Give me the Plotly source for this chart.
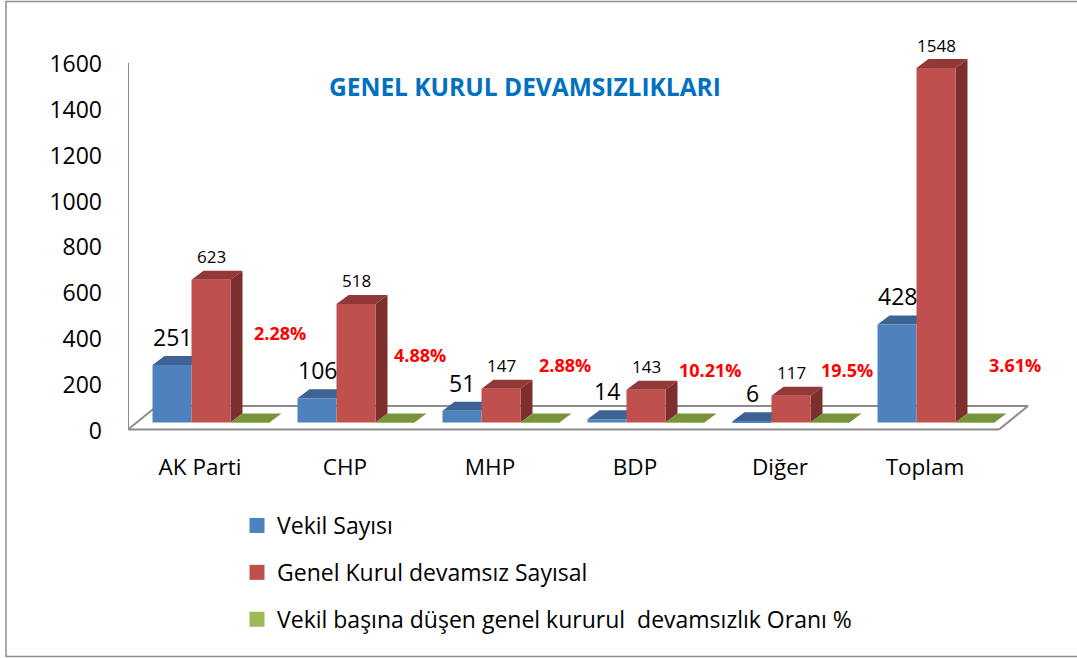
import plotly.graph_objects as go

# ---------------- data ----------------
categories = ["AK Parti", "CHP", "MHP", "BDP", "Diğer", "Toplam"]
vekil_sayisi = [251, 106, 51, 14, 6, 428]
devamsiz_sayisal = [623, 518, 147, 143, 117, 1548]
oran_yuzde = [2.28, 4.88, 2.88, 10.21, 19.5, 3.61]
series_names = ["Vekil Sayısı", "Genel Kurul devamsız Sayısal",
                "Vekil başına düşen genel kururul  devamsızlık Oranı %"]
y_ticks = [0, 200, 400, 600, 800, 1000, 1200, 1400, 1600]
title_text = "GENEL KURUL DEVAMSIZLIKLARI"

# ---------------- layout geometry (screen pixels) ----------------
W, H = 1077, 658
plot_left, plot_right, plot_top, plot_bottom = 128, 1035, 40, 445
L, R, T, B = plot_left, W - plot_right, plot_top, H - plot_bottom
plot_w = plot_right - plot_left
plot_h = plot_bottom - plot_top
first_center_px = 211
px_per_cat = 145.0
px_per_unit = 0.229
zero_px = 422.5        # pixel row of the bar baseline
x_range = [-(first_center_px - plot_left) / px_per_cat,
           -(first_center_px - plot_left) / px_per_cat + plot_w / px_per_cat]
y_range = [-(plot_bottom - zero_px) / px_per_unit, (zero_px - plot_top) / px_per_unit]
tick_zero_px = 430.5
y2_range = [-(plot_bottom - tick_zero_px) / px_per_unit, (tick_zero_px - plot_top) / px_per_unit]

bar_w = 39 / px_per_cat
dx = 12 / px_per_cat
dy = 9 / px_per_unit
label_shift = -11 / px_per_cat

def xd(px):
    return x_range[0] + (px - plot_left) / px_per_cat

def yd(px):
    return (zero_px - px) / px_per_unit

def xp(px):
    return (px - plot_left) / plot_w

def yp(px):
    return (plot_bottom - px) / plot_h

BLUE, BLUE_TOP = "#4F81BD", "#3C6393"
RED, RED_TOP, RED_SIDE = "#C0504D", "#923937", "#7C2F2D"
GREEN, GREEN_TOP = "#9BBB59", "#77933C"
AXIS_C = "#8C8C8C"
FONT = "Open Sans, Liberation Sans, sans-serif"

xs = list(range(len(categories)))
oran_frac = [v / 100 for v in oran_yuzde]

fig = go.Figure()
fig.add_trace(go.Bar(x=xs, y=vekil_sayisi, name=series_names[0], marker_color=BLUE,
                     marker_line_width=0, showlegend=False, hoverinfo="y"))
fig.add_trace(go.Bar(x=xs, y=devamsiz_sayisal, name=series_names[1], marker_color=RED,
                     marker_line_width=0, showlegend=False, hoverinfo="y"))
fig.add_trace(go.Bar(x=xs, y=oran_frac, name=series_names[2], marker_color=GREEN,
                     marker_line_width=0, showlegend=False, hoverinfo="skip"))
# legend entries (square swatches)
for name, col, grp in zip(series_names, [BLUE, RED, GREEN], ["a", "b", "c"]):
    fig.add_trace(go.Scatter(x=[None], y=[None], mode="markers", name=name, legendgroup=grp,
                             marker=dict(symbol="square", size=15, color=col)))
fig.add_trace(go.Scatter(x=[xs[0]], y=[0], yaxis="y2", mode="markers",
                         marker=dict(opacity=0), showlegend=False, hoverinfo="skip"))

shapes = []

def poly(pts, color):
    path = "M " + " L ".join(f"{x},{y}" for x, y in pts) + " Z"
    return dict(type="path", path=path, xref="x", yref="y", fillcolor=color,
                line=dict(width=0), layer="below")

# floor and axis frame
fl, fr = xd(128), xd(999)
bl, br = xd(157), xd(1028)
ff, fb = yd(429.5), yd(406)
line_style = dict(color=AXIS_C, width=2)
for (a, b, c, d) in [(bl, fb, br, fb), (fl, ff, fr, ff), (fl, ff, bl, fb), (fr, ff, br, fb)]:
    shapes.append(dict(type="line", x0=a, y0=b, x1=c, y1=d, xref="x", yref="y",
                       line=line_style, layer="below"))
shapes.append(dict(type="line", x0=fl, y0=ff, x1=fl, y1=yd(62.7), xref="x", yref="y",
                   line=line_style, layer="below"))

# 3D faces
for i in xs:
    x0, x1, v = i - 1.5 * bar_w, i - 0.5 * bar_w, vekil_sayisi[i]
    shapes.append(poly([(x0, v), (x1, v), (x1 + dx, v + dy), (x0 + dx, v + dy)], BLUE_TOP))
    x0, x1, v = i - 0.5 * bar_w, i + 0.5 * bar_w, devamsiz_sayisal[i]
    shapes.append(poly([(x0, v), (x1, v), (x1 + dx, v + dy), (x0 + dx, v + dy)], RED_TOP))
    shapes.append(poly([(x1, 0), (x1, v), (x1 + dx, v + dy), (x1 + dx, dy)], RED_SIDE))
    x0, x1, v = i + 0.5 * bar_w, i + 1.5 * bar_w, oran_frac[i]
    shapes.append(poly([(x0, v), (x1, v), (x1 + dx, v + dy), (x0 + dx, v + dy)], GREEN_TOP))

# outer frame (right edge lies outside the window)
shapes.append(dict(type="rect", xref="paper", yref="paper",
                   x0=xp(6), x1=xp(1110), y0=yp(656.5), y1=yp(1.5),
                   line=dict(color="#8E8E8E", width=1.5), layer="below"))

annotations = []
for i in xs:
    annotations.append(dict(x=i - bar_w, y=vekil_sayisi[i] + dy, text=str(vekil_sayisi[i]),
                            showarrow=False, yanchor="middle", yshift=19,
                            font=dict(family=FONT, size=23, color="black")))
    annotations.append(dict(x=i, y=devamsiz_sayisal[i] + dy, text=str(devamsiz_sayisal[i]),
                            showarrow=False, yanchor="middle", yshift=14,
                            font=dict(family=FONT, size=17, color="black")))

pct_label_dx = [30, 25, 25, 25, 17, 40]          # pixel offsets from the green bar centre
pct_label_px = [333, 354.5, 365, 370, 370, 365]  # label centre rows (screen px)
for i in xs:
    annotations.append(dict(x=i + bar_w + pct_label_dx[i] / px_per_cat, y=yd(pct_label_px[i]),
                            text=f"<b>{oran_yuzde[i]}%</b>", showarrow=False,
                            yanchor="middle",
                            font=dict(family=FONT, size=18, color="#FF0000")))

annotations.append(dict(xref="paper", yref="paper", x=xp(525), y=yp(86),
                        text=f"<b>{title_text}</b>", showarrow=False,
                        xanchor="center", yanchor="middle",
                        font=dict(family=FONT, size=24.5, color="#0070C0")))

fig.update_layout(
    width=W, height=H,
    margin=dict(l=L, r=R, t=T, b=B, pad=0, autoexpand=False),
    paper_bgcolor="white", plot_bgcolor="white",
    barmode="group", bargap=1 - 3 * bar_w, bargroupgap=0,
    showlegend=True,
    legend=dict(x=xp(237), y=yp(504), xanchor="left", yanchor="top",
                tracegroupgap=14, traceorder="grouped", itemsizing="trace",
                font=dict(family=FONT, size=23, color="black"),
                bgcolor="rgba(0,0,0,0)"),
    xaxis=dict(range=x_range, tickvals=[i + label_shift for i in xs], ticktext=categories,
               showgrid=False, zeroline=False, showline=False, ticks="",
               ticklabelstandoff=6,
               tickfont=dict(family=FONT, size=22.5, color="black")),
    yaxis=dict(range=y_range, showticklabels=False, showgrid=False, zeroline=False,
               showline=False, ticks=""),
    yaxis2=dict(range=y2_range, overlaying="y", side="left", anchor="x",
                tickvals=y_ticks, showgrid=False, zeroline=False, showline=False,
                ticks="", ticklabelstandoff=25,
                tickfont=dict(family=FONT, size=23, color="black")),
    shapes=shapes, annotations=annotations,
    font=dict(family=FONT),
)

fig.write_html("out.html", config={"displayModeBar": False},
               post_script="document.body.style.margin='0';")
